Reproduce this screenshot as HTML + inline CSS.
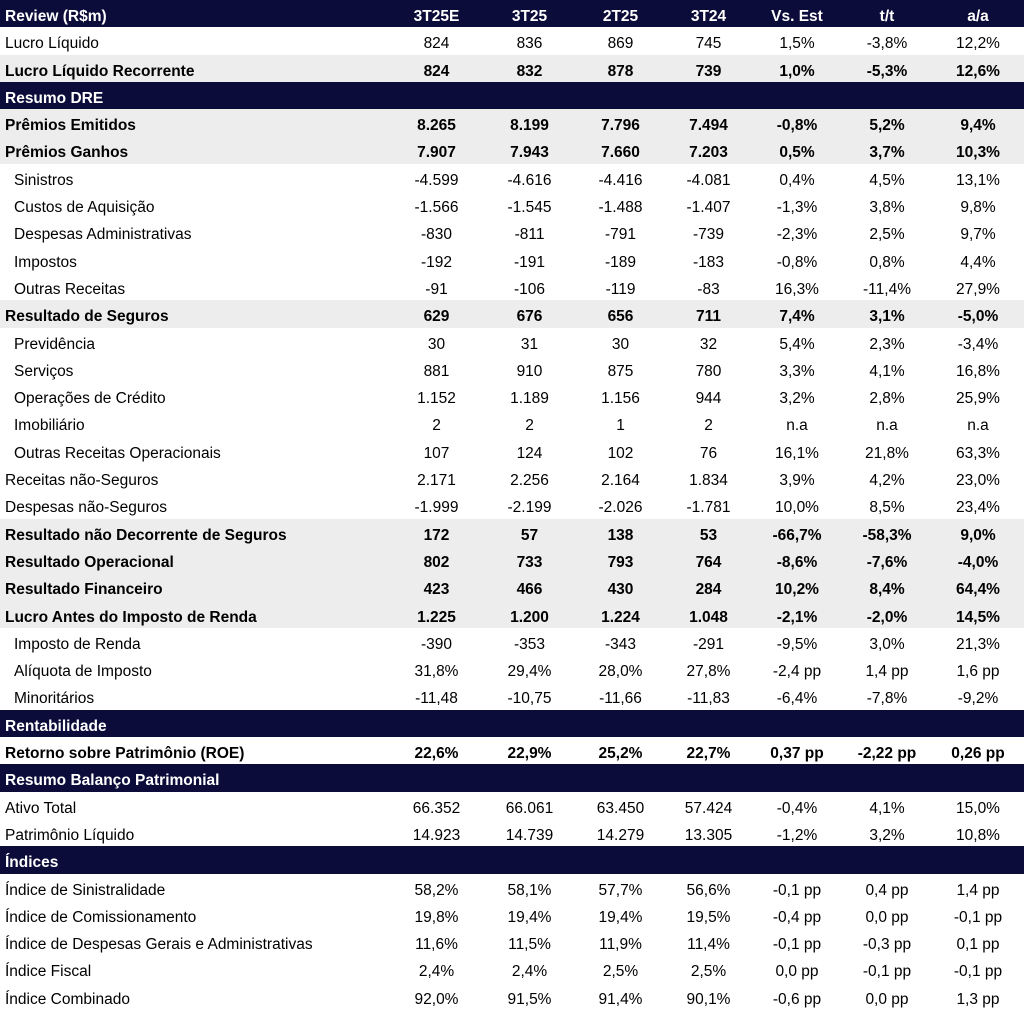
<!DOCTYPE html>
<html><head><meta charset="utf-8">
<style>
body{margin:0;width:1024px;height:1010px;background:#fff;overflow:hidden;font-family:"Liberation Sans",sans-serif;font-size:15.5px;color:#000}
#t{position:relative;width:1024px;height:1010px}
.r{position:absolute;left:0;width:1024px}
.r div{position:absolute;top:3px;height:100%;white-space:nowrap}
.dark{background:#0c0c3a;color:#fff;font-weight:bold}
.gray{background:#ededed;font-weight:bold}
.bold{font-weight:bold}
.c{text-align:center}
</style></head><body>
<div id="t"></div>
<script>
const bounds=[390,483,576,665,752,842,932,1024];
const rows=[
["Review (R$m)","dark",0,"3T25E","3T25","2T25","3T24","Vs. Est","t/t","a/a"],
["Lucro Líquido","",0,"824","836","869","745","1,5%","-3,8%","12,2%"],
["Lucro Líquido Recorrente","gray",0,"824","832","878","739","1,0%","-5,3%","12,6%"],
["Resumo DRE","dark",0],
["Prêmios Emitidos","gray",0,"8.265","8.199","7.796","7.494","-0,8%","5,2%","9,4%"],
["Prêmios Ganhos","gray",0,"7.907","7.943","7.660","7.203","0,5%","3,7%","10,3%"],
["Sinistros","",1,"-4.599","-4.616","-4.416","-4.081","0,4%","4,5%","13,1%"],
["Custos de Aquisição","",1,"-1.566","-1.545","-1.488","-1.407","-1,3%","3,8%","9,8%"],
["Despesas Administrativas","",1,"-830","-811","-791","-739","-2,3%","2,5%","9,7%"],
["Impostos","",1,"-192","-191","-189","-183","-0,8%","0,8%","4,4%"],
["Outras Receitas","",1,"-91","-106","-119","-83","16,3%","-11,4%","27,9%"],
["Resultado de Seguros","gray",0,"629","676","656","711","7,4%","3,1%","-5,0%"],
["Previdência","",1,"30","31","30","32","5,4%","2,3%","-3,4%"],
["Serviços","",1,"881","910","875","780","3,3%","4,1%","16,8%"],
["Operações de Crédito","",1,"1.152","1.189","1.156","944","3,2%","2,8%","25,9%"],
["Imobiliário","",1,"2","2","1","2","n.a","n.a","n.a"],
["Outras Receitas Operacionais","",1,"107","124","102","76","16,1%","21,8%","63,3%"],
["Receitas não-Seguros","",0,"2.171","2.256","2.164","1.834","3,9%","4,2%","23,0%"],
["Despesas não-Seguros","",0,"-1.999","-2.199","-2.026","-1.781","10,0%","8,5%","23,4%"],
["Resultado não Decorrente de Seguros","gray",0,"172","57","138","53","-66,7%","-58,3%","9,0%"],
["Resultado Operacional","gray",0,"802","733","793","764","-8,6%","-7,6%","-4,0%"],
["Resultado Financeiro","gray",0,"423","466","430","284","10,2%","8,4%","64,4%"],
["Lucro Antes do Imposto de Renda","gray",0,"1.225","1.200","1.224","1.048","-2,1%","-2,0%","14,5%"],
["Imposto de Renda","",1,"-390","-353","-343","-291","-9,5%","3,0%","21,3%"],
["Alíquota de Imposto","",1,"31,8%","29,4%","28,0%","27,8%","-2,4 pp","1,4 pp","1,6 pp"],
["Minoritários","",1,"-11,48","-10,75","-11,66","-11,83","-6,4%","-7,8%","-9,2%"],
["Rentabilidade","dark",0],
["Retorno sobre Patrimônio (ROE)","bold",0,"22,6%","22,9%","25,2%","22,7%","0,37 pp","-2,22 pp","0,26 pp"],
["Resumo Balanço Patrimonial","dark",0],
["Ativo Total","",0,"66.352","66.061","63.450","57.424","-0,4%","4,1%","15,0%"],
["Patrimônio Líquido","",0,"14.923","14.739","14.279","13.305","-1,2%","3,2%","10,8%"],
["Índices","dark",0],
["Índice de Sinistralidade","",0,"58,2%","58,1%","57,7%","56,6%","-0,1 pp","0,4 pp","1,4 pp"],
["Índice de Comissionamento","",0,"19,8%","19,4%","19,4%","19,5%","-0,4 pp","0,0 pp","-0,1 pp"],
["Índice de Despesas Gerais e Administrativas","",0,"11,6%","11,5%","11,9%","11,4%","-0,1 pp","-0,3 pp","0,1 pp"],
["Índice Fiscal","",0,"2,4%","2,4%","2,5%","2,5%","0,0 pp","-0,1 pp","-0,1 pp"],
["Índice Combinado","",0,"92,0%","91,5%","91,4%","90,1%","-0,6 pp","0,0 pp","1,3 pp"]
];
const t=document.getElementById('t');
const H=1010/rows.length;
rows.forEach((r,i)=>{
  const row=document.createElement('div');
  row.className='r '+r[1];
  row.style.top=(i*H)+'px';
  row.style.height=H+'px';row.style.lineHeight=H+'px';
  
  
  const lab=document.createElement('div');
  lab.textContent=r[0];
  lab.style.left=(r[2]?14:5)+'px';
  
  
  row.appendChild(lab);
  for(let j=3;j<r.length;j++){
    const c=document.createElement('div');
    c.className='c';
    c.textContent=r[j];
    c.style.left=bounds[j-3]+'px';
    c.style.width=(bounds[j-2]-bounds[j-3])+'px';
    
    
    row.appendChild(c);
  }
  t.appendChild(row);
});
</script>
</body></html>
